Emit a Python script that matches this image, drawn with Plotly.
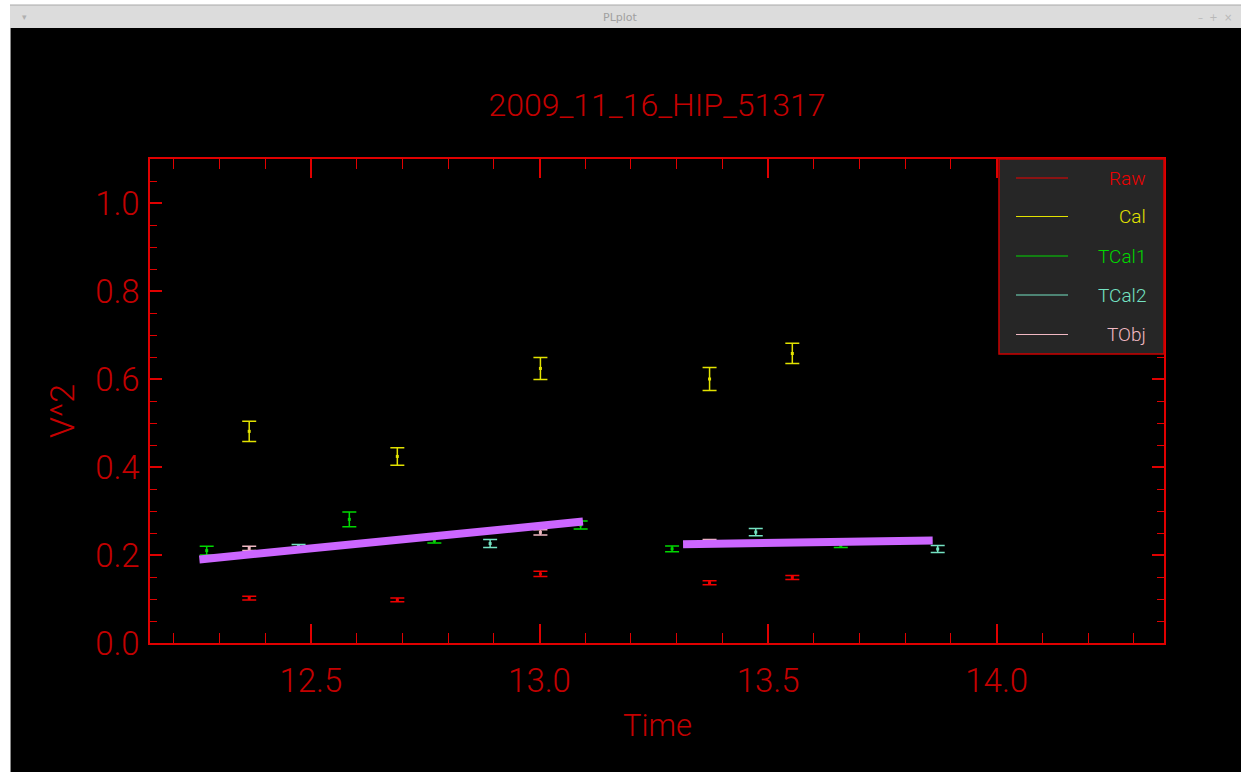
import plotly.graph_objects as go

# ---------------- data ----------------
series_names = ["Raw", "Cal", "TCal1", "TCal2", "TObj"]

raw_x = [12.365, 12.689, 13.002, 13.372, 13.553]
raw_y = [0.102, 0.098, 0.157, 0.137, 0.149]
raw_e = [0.0045, 0.004, 0.006, 0.0045, 0.0045]

cal_x = [12.365, 12.689, 13.002, 13.372, 13.553]
cal_y = [0.481, 0.424, 0.624, 0.600, 0.658]
cal_e = [0.023, 0.020, 0.025, 0.026, 0.023]

tcal1_x = [12.272, 12.584, 12.770, 13.090, 13.290, 13.659]
tcal1_y = [0.210, 0.281, 0.233, 0.268, 0.214, 0.221]
tcal1_e = [0.010, 0.017, 0.006, 0.009, 0.0065, 0.004]

tcal2_x = [12.473, 12.892, 13.473, 13.871]
tcal2_y = [0.2196, 0.226, 0.252, 0.2135]
tcal2_e = [0.004, 0.009, 0.008, 0.008]

tobj_x = [12.365, 13.002, 13.372]
tobj_y = [0.215, 0.2515, 0.232]
tobj_e = [0.005, 0.006, 0.003]

fit1_x = [12.256, 13.095]
fit1_y = [0.190, 0.276]
fit2_x = [13.314, 13.860]
fit2_y = [0.2245, 0.2328]

x_range = [12.148, 14.366]
y_range = [0.0, 1.1]

title_text = "2009_11_16_HIP_51317"
x_title = "Time"
y_title = "V^2"

# ---------------- styles ----------------
colors = ["#ee0000", "#e2e200", "#00d800", "#74e2c2", "#f0b8c2"]
axis_red = "#e00000"
text_red = "#c40000"
FONT = "Roboto, Liberation Sans, DejaVu Sans"
FW = 300

W, H = 1241, 772
ML, MR, MT, MB = 150, 77, 159, 129
PW = W - ML - MR
PH = H - MT - MB


def px(x):
    return (x - ML) / PW


def py(y):
    return (H - MB - y) / PH


fig = go.Figure()

all_series = [
    (raw_x, raw_y, raw_e),
    (cal_x, cal_y, cal_e),
    (tcal1_x, tcal1_y, tcal1_e),
    (tcal2_x, tcal2_y, tcal2_e),
    (tobj_x, tobj_y, tobj_e),
]

for name, col, (xs, ys, es) in zip(series_names, colors, all_series):
    fig.add_trace(go.Scatter(
        x=xs, y=ys, mode="markers", name=name,
        marker=dict(color=col, size=3, symbol="square", line=dict(width=0)),
        error_y=dict(type="data", array=es, visible=True, color=col,
                     thickness=1.5, width=7),
        showlegend=False,
    ))

for fx, fy in [(fit1_x, fit1_y), (fit2_x, fit2_y)]:
    fig.add_trace(go.Scatter(
        x=fx, y=fy, mode="lines",
        line=dict(color="#cc66ff", width=8),
        showlegend=False, hoverinfo="skip",
    ))

shapes = []
annotations = []

# window frame (white strip on the left, title bar on top)
shapes.append(dict(type="rect", xref="paper", yref="paper",
                   x0=px(0), x1=px(10), y0=py(H), y1=py(0),
                   fillcolor="#ffffff", line=dict(width=0), layer="above"))
shapes.append(dict(type="rect", xref="paper", yref="paper",
                   x0=px(10), x1=px(11), y0=py(H), y1=py(28),
                   fillcolor="#8a8a8a", line=dict(width=0), layer="above"))
shapes.append(dict(type="rect", xref="paper", yref="paper",
                   x0=px(0), x1=px(W), y0=py(5), y1=py(0),
                   fillcolor="#ffffff", line=dict(width=0), layer="above"))
shapes.append(dict(type="rect", xref="paper", yref="paper",
                   x0=px(10), x1=px(W), y0=py(28), y1=py(5),
                   fillcolor="#dcdcdc", line=dict(width=0), layer="above"))
shapes.append(dict(type="line", xref="paper", yref="paper",
                   x0=px(10), x1=px(W), y0=py(5), y1=py(5),
                   line=dict(color="#a8a8a8", width=1), layer="above"))
annotations.append(dict(text="PLplot", xref="paper", yref="paper",
                        x=px(620), y=py(17), showarrow=False,
                        xanchor="center", yanchor="middle",
                        font=dict(family="DejaVu Sans", size=11, color="#a0a0a0")))
annotations.append(dict(text="▾", xref="paper", yref="paper",
                        x=px(24), y=py(17), showarrow=False,
                        xanchor="center", yanchor="middle",
                        font=dict(family="DejaVu Sans", size=9, color="#b0b0b0")))
annotations.append(dict(text="–  +  ×", xref="paper", yref="paper",
                        x=px(1215), y=py(17), showarrow=False,
                        xanchor="center", yanchor="middle",
                        font=dict(family="DejaVu Sans", size=10, color="#b8b8b8")))

# manual legend box
lx0, lx1, ly0, ly1 = 999, 1164, 159, 354
shapes.append(dict(type="rect", xref="paper", yref="paper",
                   x0=px(lx0), x1=px(lx1), y0=py(ly1), y1=py(ly0),
                   fillcolor="#262626", line=dict(color="#cc0000", width=1.5),
                   layer="above"))
row_y = [178, 216.5, 256, 295, 334.5]
for name, col, ry in zip(series_names, colors, row_y):
    shapes.append(dict(type="line", xref="paper", yref="paper",
                       x0=px(1016), x1=px(1068), y0=py(ry), y1=py(ry),
                       line=dict(color=col, width=1.2), layer="above"))
    annotations.append(dict(text=name, xref="paper", yref="paper",
                            x=px(1148), y=py(ry), xanchor="right", yanchor="middle",
                            showarrow=False,
                            font=dict(family=FONT, size=19, color=col, weight=FW)))

# axis titles
annotations.append(dict(text=x_title, xref="paper", yref="paper",
                        x=px(657), y=py(725), showarrow=False,
                        xanchor="center", yanchor="middle",
                        font=dict(family=FONT, size=31, color=text_red, weight=FW)))
annotations.append(dict(text=y_title, xref="paper", yref="paper",
                        x=px(62), y=py(411), showarrow=False, textangle=-90,
                        xanchor="center", yanchor="middle",
                        font=dict(family=FONT, size=34, color=text_red, weight=FW)))

fig.update_layout(
    width=W, height=H,
    margin=dict(l=ML, r=MR, t=MT, b=MB),
    paper_bgcolor="#000000",
    plot_bgcolor="#000000",
    title=dict(text=title_text, x=px(657), xref="paper",
               y=1 - 105 / H, yref="container", xanchor="center", yanchor="middle",
               font=dict(family=FONT, size=32, color=text_red, weight=FW)),
    shapes=shapes,
    annotations=annotations,
    showlegend=False,
)

fig.update_xaxes(
    range=x_range, showgrid=False, zeroline=False,
    showline=True, linecolor=axis_red, linewidth=1.5, mirror="ticks",
    ticks="inside", ticklen=19, tickwidth=1.5, tickcolor=axis_red,
    dtick=0.5, tick0=12.0, tickformat=".1f",
    tickfont=dict(family=FONT, size=33, color=text_red, weight=FW),
    ticklabelstandoff=8,
    minor=dict(ticks="inside", ticklen=10, dtick=0.1, tick0=12.0,
               tickcolor=axis_red, tickwidth=1.2, showgrid=False),
)
fig.update_yaxes(
    range=y_range, showgrid=False, zeroline=False,
    showline=True, linecolor=axis_red, linewidth=1.5, mirror="ticks",
    ticks="inside", ticklen=12, tickwidth=1.5, tickcolor=axis_red,
    dtick=0.2, tick0=0, tickformat=".1f",
    tickfont=dict(family=FONT, size=33, color=text_red, weight=FW),
    ticklabelstandoff=2,
    minor=dict(ticks="inside", ticklen=7, dtick=0.05, tick0=0,
               tickcolor=axis_red, tickwidth=1.2, showgrid=False),
)

fig.write_html("out.html")
